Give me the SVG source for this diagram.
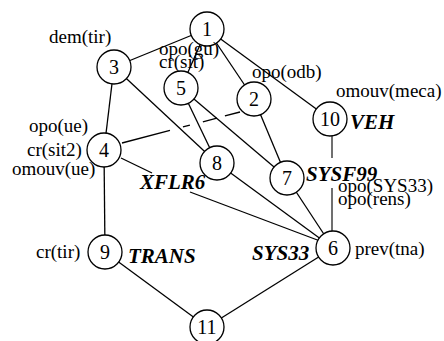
<svg xmlns="http://www.w3.org/2000/svg" width="444" height="341" viewBox="0 0 444 341">
<style>
.e{stroke:#000;stroke-width:1.3;fill:none}
.g{stroke:#707070;stroke-width:2;fill:none}
.n circle{fill:#fff;stroke:#000;stroke-width:1.3}
.n text{font-family:"Liberation Serif","Times New Roman",serif;font-size:20px;text-anchor:middle;fill:#000}
.l{font-family:"Liberation Serif","Times New Roman",serif;font-size:19px;fill:#000}
.b{font-family:"Liberation Serif","Times New Roman",serif;font-size:21px;font-weight:bold;font-style:italic;fill:#000}
</style>
<rect width="444" height="341" fill="#fff"/>
<g id="connectors">
<line class="e" x1="207" y1="29" x2="114" y2="67"/>
<line class="e" x1="207" y1="29" x2="181" y2="88"/>
<line class="e" x1="207" y1="29" x2="254" y2="99"/>
<line class="e" x1="207" y1="29" x2="330" y2="119"/>
<line class="e" x1="114" y1="67" x2="104" y2="150"/>
<line class="e" x1="114" y1="67" x2="217" y2="163"/>
<line class="e" x1="181" y1="88" x2="217" y2="163"/>
<line class="e" x1="181" y1="88" x2="287" y2="178"/>
<line class="e" x1="254" y1="99" x2="287" y2="178"/>
<line class="e" x1="122" y1="143" x2="240" y2="112" stroke-dasharray="49.6 13.4 7.2 13.4 14.5 8.3 20"/>
<line class="e" x1="104" y1="150" x2="105" y2="252"/>
<line class="e" x1="121" y1="158" x2="152" y2="173"/>
<line class="e" x1="190" y1="192" x2="320" y2="241"/>
<line class="e" x1="217" y1="163" x2="333" y2="248"/>
<line class="e" x1="287" y1="178" x2="333" y2="248"/>
<line class="g" x1="332" y1="136" x2="332" y2="158"/>
<line class="g" x1="332" y1="188" x2="332" y2="232"/>
<line class="e" x1="105" y1="252" x2="207" y2="327"/>
<line class="e" x1="207" y1="327" x2="333" y2="248"/>
</g>
<g id="node1" class="n"><circle cx="207" cy="29" r="17"/><text x="207" y="36">1</text></g>
<g id="node2" class="n"><circle cx="254" cy="99" r="17"/><text x="254" y="106">2</text></g>
<g id="node3" class="n"><circle cx="114" cy="67" r="17"/><text x="114" y="74">3</text></g>
<g id="node4" class="n"><circle cx="104" cy="150" r="17"/><text x="104" y="157">4</text></g>
<g id="node5" class="n"><circle cx="181" cy="88" r="17"/><text x="181" y="95">5</text></g>
<g id="node6" class="n"><circle cx="333" cy="248" r="17"/><text x="333" y="255">6</text></g>
<g id="node7" class="n"><circle cx="287" cy="178" r="17"/><text x="287" y="185">7</text></g>
<g id="node8" class="n"><circle cx="217" cy="163" r="17"/><text x="217" y="170">8</text></g>
<g id="node9" class="n"><circle cx="105" cy="252" r="17"/><text x="105" y="259">9</text></g>
<g id="node10" class="n"><circle cx="330" cy="119" r="17"/><text x="330" y="126">10</text></g>
<g id="node11" class="n"><circle cx="207" cy="327" r="17"/><text x="207" y="334">11</text></g>
<g id="labels">
<text class="l" x="49" y="43">dem(tir)</text>
<text class="l" x="159" y="55">opo(gu)</text>
<text class="l" x="159" y="68">cr(sit)</text>
<text class="l" x="252" y="78">opo(odb)</text>
<text class="l" x="336" y="97">omouv(meca)</text>
<text class="b" x="350" y="129">VEH</text>
<text class="l" x="29" y="132">opo(ue)</text>
<text class="l" x="27" y="156">cr(sit2)</text>
<text class="l" x="12" y="175">omouv(ue)</text>
<text class="b" x="140" y="189">XFLR6</text>
<text class="b" x="306" y="181">SYSF99</text>
<text class="l" x="338" y="192">opo(SYS33)</text>
<text class="l" x="338" y="205">opo(rens)</text>
<text class="l" x="355" y="255">prev(tna)</text>
<text class="b" x="252" y="260">SYS33</text>
<text class="l" x="36" y="258">cr(tir)</text>
<text class="b" x="128" y="263">TRANS</text>
</g>
</svg>
